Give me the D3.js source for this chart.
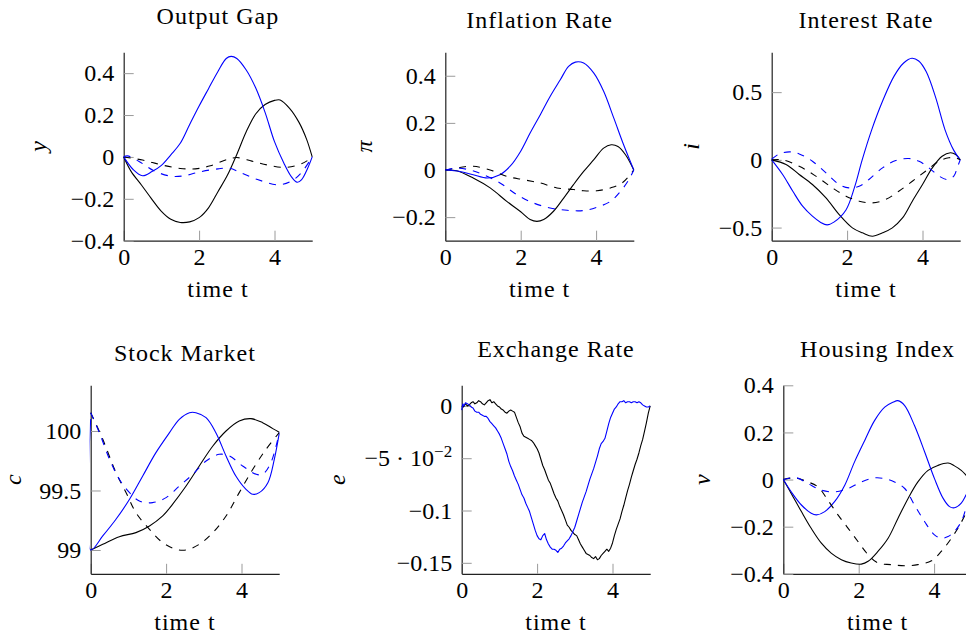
<!DOCTYPE html>
<html>
<head>
<meta charset="utf-8">
<script src="https://cdn.jsdelivr.net/npm/d3@7"></script>
<style>
body { margin: 0; background: #fff; }
</style>
</head>
<body>
<svg id="chart" width="966" height="641"></svg>
<script>
// ---------------- data ----------------
const timeTicks = [0, 2, 4];

// Output gap
const gapBlue = [[0,0],[0.25,-0.06],[0.5,-0.09],[0.75,-0.07],[1,-0.04],[1.25,0.01],[1.5,0.065],[1.75,0.155],[2,0.243],[2.25,0.326],[2.5,0.408],[2.72,0.47],[2.85,0.48],[3,0.47],[3.25,0.415],[3.5,0.33],[3.75,0.213],[4,0.073],[4.25,-0.03],[4.45,-0.095],[4.6,-0.121],[4.72,-0.108],[4.88,-0.054],[5,0]];
const gapBlack = [[0,0],[0.2,-0.07],[0.47,-0.134],[0.73,-0.198],[1,-0.26],[1.25,-0.298],[1.5,-0.313],[1.75,-0.31],[2,-0.29],[2.25,-0.243],[2.5,-0.166],[2.75,-0.088],[3,0.012],[3.25,0.12],[3.5,0.205],[3.75,0.25],[4,0.27],[4.15,0.272],[4.4,0.232],[4.65,0.165],[4.85,0.085],[5,0]];
const gapBlackDash = [[0,0],[0.5,-0.015],[1,-0.038],[1.5,-0.055],[1.9,-0.057],[2.3,-0.042],[2.75,-0.012],[3,-0.003],[3.4,-0.02],[3.8,-0.038],[4.25,-0.05],[4.6,-0.04],[4.85,-0.02],[5,0]];
const gapBlueDash = [[0,0],[0.1,0.005],[0.5,-0.032],[0.8,-0.066],[1.25,-0.092],[1.6,-0.09],[2,-0.072],[2.5,-0.057],[2.8,-0.054],[3.1,-0.075],[3.55,-0.108],[4.1,-0.133],[4.45,-0.115],[4.7,-0.078],[5,0]];
const gapTicks = [-0.4, -0.2, 0, 0.2, 0.4];
const gapTickLabels = ['−0.4', '−0.2', '0', '0.2', '0.4'];

// Inflation rate
const inflBlue = [[0,0],[0.39,-0.006],[0.74,-0.02],[1.12,-0.034],[1.45,-0.02],[1.72,0.016],[2,0.08],[2.25,0.157],[2.52,0.235],[2.78,0.312],[3.05,0.383],[3.27,0.44],[3.45,0.458],[3.67,0.454],[3.94,0.411],[4.2,0.334],[4.47,0.22],[4.73,0.107],[5,0]];
const inflBlack = [[0,0],[0.3,-0.003],[0.74,-0.034],[1.19,-0.076],[1.63,-0.133],[2,-0.177],[2.25,-0.21],[2.43,-0.218],[2.61,-0.21],[2.87,-0.175],[3.14,-0.119],[3.4,-0.062],[3.67,-0.006],[3.94,0.044],[4.2,0.093],[4.4,0.107],[4.58,0.1],[4.78,0.065],[5,0]];
const inflBlackDash = [[0,0],[0.39,0.011],[0.74,0.016],[1.19,0],[1.63,-0.027],[2.07,-0.041],[2.52,-0.055],[2.96,-0.076],[3.4,-0.083],[3.67,-0.088],[4.02,-0.088],[4.38,-0.076],[4.69,-0.055],[5,0]];
const inflBlueDash = [[0,0],[0.3,0.008],[0.66,0],[1.01,-0.02],[1.45,-0.055],[1.9,-0.105],[2.34,-0.14],[2.78,-0.161],[3.23,-0.171],[3.67,-0.172],[4.02,-0.158],[4.38,-0.133],[4.65,-0.09],[4.87,-0.041],[5,0]];
const inflTicks = [-0.2, 0, 0.2, 0.4];
const inflTickLabels = ['−0.2', '0', '0.2', '0.4'];

// Interest rate
const rateBlue = [[0,0],[0.29,-0.108],[0.56,-0.232],[0.82,-0.342],[1.08,-0.416],[1.3,-0.462],[1.47,-0.48],[1.65,-0.46],[1.97,-0.37],[2.2,-0.2],[2.4,0],[2.65,0.22],[2.95,0.44],[3.25,0.62],[3.5,0.715],[3.72,0.75],[3.9,0.73],[4.1,0.65],[4.35,0.46],[4.6,0.22],[4.83,0.07],[5,0]];
const rateBlack = [[0,0],[0.38,-0.034],[0.73,-0.108],[1.08,-0.182],[1.44,-0.281],[1.79,-0.404],[2.14,-0.502],[2.41,-0.539],[2.67,-0.564],[2.94,-0.539],[3.2,-0.502],[3.47,-0.429],[3.73,-0.305],[4,-0.182],[4.26,-0.059],[4.52,0.027],[4.74,0.052],[4.88,0.039],[5,0]];
const rateBlackDash = [[0,0],[0.29,0],[0.73,-0.047],[1.17,-0.12],[1.61,-0.207],[1.97,-0.268],[2.32,-0.305],[2.67,-0.318],[3.02,-0.293],[3.37,-0.232],[3.73,-0.158],[4.08,-0.084],[4.44,-0.01],[4.7,0.015],[4.88,0.015],[5,0]];
const rateBlueDash = [[0,0.005],[0.2,0.044],[0.47,0.059],[0.73,0.044],[1.08,-0.01],[1.44,-0.096],[1.79,-0.182],[2.05,-0.207],[2.32,-0.195],[2.58,-0.145],[2.94,-0.059],[3.29,-0.005],[3.64,0.01],[3.91,-0.01],[4.17,-0.059],[4.44,-0.12],[4.66,-0.145],[4.83,-0.12],[4.92,-0.059],[5,0]];
const rateTicks = [-0.5, 0, 0.5];
const rateTickLabels = ['−0.5', '0', '0.5'];

// Stock market
const stockBlue = [[0,100.1],[0,99],[0.32,99.118],[0.67,99.258],[1.03,99.426],[1.38,99.622],[1.73,99.818],[2.09,99.986],[2.35,100.098],[2.62,100.154],[2.79,100.154],[3.06,100.112],[3.32,99.986],[3.59,99.79],[3.85,99.622],[4.12,99.51],[4.3,99.468],[4.47,99.482],[4.7,99.566],[4.87,99.762],[5,99.98]];
const stockBlueDash = [[0,100.154],[0.23,99.986],[0.5,99.762],[0.76,99.594],[1.03,99.482],[1.29,99.412],[1.64,99.398],[2,99.44],[2.35,99.538],[2.71,99.636],[3.06,99.748],[3.41,99.804],[3.68,99.79],[4.03,99.706],[4.39,99.636],[4.56,99.636],[4.78,99.734],[5,99.986]];
const stockBlack = [[0,99],[0.32,99.048],[0.76,99.112],[1.2,99.146],[1.56,99.202],[1.91,99.286],[2.17,99.384],[2.53,99.538],[2.88,99.706],[3.24,99.874],[3.59,100],[3.94,100.084],[4.25,100.104],[4.56,100.07],[4.83,100.02],[5,99.99]];
const stockBlackDash = [[0,100.154],[0.32,99.93],[0.67,99.65],[0.94,99.482],[1.2,99.314],[1.56,99.174],[1.91,99.062],[2.26,99.006],[2.53,99],[2.88,99.048],[3.24,99.146],[3.59,99.286],[3.94,99.482],[4.3,99.678],[4.65,99.846],[5,99.986]];
const stockTicks = [99, 99.5, 100];
const stockTickLabels = ['99', '99.5', '100'];

// Exchange rate (noisy paths)
const fxBlack = [[0,0],[0.05,-0.001],[0.1,0.002],[0.15,0.0],[0.2,0.001],[0.25,0.003],[0.3,0.004],[0.35,0.002],[0.4,0.003],[0.45,0.005],[0.5,0.004],[0.55,0.002],[0.6,0.001],[0.65,0.003],[0.7,0.005],[0.75,0.006],[0.8,0.003],[0.85,0.004],[0.9,0.002],[0.95,0.0],[1,-0.001],[1.05,-0.003],[1.1,-0.004],[1.15,-0.006],[1.2,-0.007],[1.25,-0.005],[1.3,-0.004],[1.35,-0.005],[1.4,-0.006],[1.45,-0.011],[1.5,-0.016],[1.55,-0.02],[1.6,-0.026],[1.65,-0.029],[1.7,-0.03],[1.75,-0.031],[1.8,-0.032],[1.85,-0.033],[1.9,-0.035],[1.95,-0.038],[2,-0.041],[2.05,-0.045],[2.1,-0.051],[2.15,-0.057],[2.2,-0.061],[2.25,-0.066],[2.3,-0.071],[2.35,-0.074],[2.4,-0.079],[2.45,-0.084],[2.5,-0.088],[2.55,-0.091],[2.6,-0.096],[2.65,-0.1],[2.7,-0.104],[2.75,-0.109],[2.8,-0.114],[2.85,-0.116],[2.9,-0.119],[2.95,-0.121],[3,-0.123],[3.05,-0.124],[3.1,-0.128],[3.15,-0.132],[3.2,-0.135],[3.25,-0.138],[3.3,-0.141],[3.35,-0.142],[3.4,-0.143],[3.45,-0.145],[3.5,-0.146],[3.55,-0.144],[3.6,-0.147],[3.65,-0.146],[3.7,-0.143],[3.75,-0.141],[3.8,-0.139],[3.85,-0.137],[3.9,-0.139],[3.95,-0.136],[4,-0.131],[4.05,-0.124],[4.1,-0.118],[4.15,-0.113],[4.2,-0.108],[4.25,-0.101],[4.3,-0.095],[4.35,-0.088],[4.4,-0.081],[4.45,-0.075],[4.5,-0.068],[4.55,-0.062],[4.6,-0.056],[4.65,-0.051],[4.7,-0.045],[4.75,-0.038],[4.8,-0.032],[4.85,-0.024],[4.9,-0.016],[4.95,-0.007],[5,0]];
const fxBlue = [[0,-0.004],[0.03,0.002],[0.06,0.0],[0.1,0.003],[0.15,0.002],[0.2,0.001],[0.25,-0.001],[0.3,-0.002],[0.35,-0.005],[0.4,-0.006],[0.45,-0.006],[0.5,-0.008],[0.55,-0.009],[0.6,-0.01],[0.65,-0.01],[0.7,-0.012],[0.75,-0.015],[0.8,-0.017],[0.85,-0.019],[0.9,-0.021],[0.95,-0.024],[1,-0.027],[1.05,-0.031],[1.1,-0.036],[1.15,-0.041],[1.2,-0.046],[1.25,-0.053],[1.3,-0.058],[1.35,-0.062],[1.4,-0.067],[1.45,-0.071],[1.5,-0.075],[1.55,-0.08],[1.6,-0.085],[1.65,-0.088],[1.7,-0.093],[1.75,-0.097],[1.8,-0.101],[1.85,-0.107],[1.9,-0.113],[1.95,-0.119],[2,-0.124],[2.05,-0.127],[2.1,-0.128],[2.15,-0.124],[2.2,-0.122],[2.25,-0.128],[2.3,-0.132],[2.35,-0.135],[2.4,-0.137],[2.45,-0.137],[2.5,-0.138],[2.55,-0.14],[2.6,-0.137],[2.65,-0.136],[2.7,-0.134],[2.75,-0.131],[2.8,-0.129],[2.85,-0.127],[2.9,-0.124],[2.95,-0.12],[3,-0.116],[3.05,-0.11],[3.1,-0.104],[3.15,-0.098],[3.2,-0.092],[3.25,-0.087],[3.3,-0.082],[3.35,-0.076],[3.4,-0.07],[3.45,-0.065],[3.5,-0.06],[3.55,-0.054],[3.6,-0.048],[3.65,-0.041],[3.7,-0.036],[3.75,-0.034],[3.8,-0.031],[3.85,-0.024],[3.9,-0.017],[3.95,-0.011],[4,-0.007],[4.05,-0.003],[4.1,-0.001],[4.15,0.002],[4.2,0.004],[4.25,0.004],[4.3,0.005],[4.35,0.003],[4.4,0.004],[4.45,0.004],[4.5,0.003],[4.55,0.004],[4.6,0.004],[4.65,0.003],[4.7,0.004],[4.75,0.003],[4.8,0.001],[4.85,0.0],[4.9,-0.001],[4.95,-0.001],[5,0]];
const fxTicks = [-0.15, -0.1, -0.05, 0];
const fxTickLabels = ['−0.15', '−0.1', '−5 · 10^−2', '0'];

// Housing index
const housBlue = [[0,0],[0.21,-0.052],[0.48,-0.108],[0.74,-0.143],[0.88,-0.15],[1.1,-0.136],[1.36,-0.094],[1.63,-0.024],[1.89,0.075],[2.16,0.166],[2.42,0.25],[2.69,0.307],[2.91,0.328],[3.04,0.335],[3.22,0.314],[3.48,0.229],[3.75,0.117],[4.01,0.004],[4.24,-0.08],[4.41,-0.115],[4.54,-0.12],[4.72,-0.1],[4.85,-0.065],[5,-0.02]];
const housBlack = [[0,0],[0.21,-0.059],[0.48,-0.136],[0.74,-0.207],[1.01,-0.27],[1.27,-0.312],[1.54,-0.34],[1.8,-0.354],[2.07,-0.359],[2.25,-0.347],[2.51,-0.305],[2.78,-0.249],[3.04,-0.165],[3.31,-0.08],[3.57,-0.01],[3.84,0.039],[4.1,0.06],[4.37,0.07],[4.54,0.058],[4.72,0.039],[4.85,0.018],[5,-0.01]];
const housBlackDash = [[0,0],[0.3,0.007],[0.65,-0.01],[0.92,-0.031],[1.18,-0.087],[1.45,-0.15],[1.72,-0.207],[1.98,-0.263],[2.25,-0.319],[2.51,-0.354],[2.86,-0.361],[3.22,-0.366],[3.57,-0.361],[3.93,-0.345],[4.19,-0.305],[4.46,-0.249],[4.68,-0.193],[4.85,-0.14],[5,-0.08]];
const housBlueDash = [[0,0],[0.34,0.008],[0.65,-0.017],[1.01,-0.045],[1.36,-0.052],[1.72,-0.038],[2.07,-0.01],[2.42,0.007],[2.69,0.004],[2.95,-0.01],[3.22,-0.038],[3.48,-0.108],[3.75,-0.179],[4.01,-0.235],[4.19,-0.249],[4.37,-0.242],[4.54,-0.22],[4.72,-0.179],[4.85,-0.12],[5,-0.05]];
const housTicks = [-0.4, -0.2, 0, 0.2, 0.4];
const housTickLabels = ['−0.4', '−0.2', '0', '0.2', '0.4'];

// ---------------- panels ----------------
const panels = [
    { title: 'Output Gap', label: 'y', yDomain: [-0.4, 0.5], ticks: gapTicks, tickLabels: gapTickLabels,
      series: [[gapBlack, 'black', false], [gapBlue, 'blue', false], [gapBlackDash, 'black', true], [gapBlueDash, 'blue', true]] },
    { title: 'Inflation Rate', label: 'π', yDomain: [-0.3, 0.5], ticks: inflTicks, tickLabels: inflTickLabels,
      series: [[inflBlack, 'black', false], [inflBlue, 'blue', false], [inflBlackDash, 'black', true], [inflBlueDash, 'blue', true]] },
    { title: 'Interest Rate', label: 'i', yDomain: [-0.597, 0.795], ticks: rateTicks, tickLabels: rateTickLabels,
      series: [[rateBlack, 'black', false], [rateBlue, 'blue', false], [rateBlackDash, 'black', true], [rateBlueDash, 'blue', true]] },
    { title: 'Stock Market', label: 'c', yDomain: [98.8, 100.384], ticks: stockTicks, tickLabels: stockTickLabels,
      series: [[stockBlack, 'black', false], [stockBlue, 'blue', false], [stockBlackDash, 'black', true], [stockBlueDash, 'blue', true]] },
    { title: 'Exchange Rate', label: 'e', yDomain: [-0.1605, 0.0197], ticks: fxTicks, tickLabels: fxTickLabels, noisy: true,
      series: [[fxBlack, 'black', false], [fxBlue, 'blue', false]] },
    { title: 'Housing Index', label: 'v', yDomain: [-0.4, 0.4], ticks: housTicks, tickLabels: housTickLabels,
      series: [[housBlack, 'black', false], [housBlue, 'blue', false], [housBlackDash, 'black', true], [housBlueDash, 'blue', true]] }
];

// where each axis box sits on the page
const W = 188.5, H = 188.5;
const boxes = [
    { left: 123.7, top: 52.2 }, { left: 445.3, top: 52.2 }, { left: 771.7, top: 52.2 },
    { left: 90.7, top: 385.3 }, { left: 461.7, top: 385.3 }, { left: 783.3, top: 385.3 }
];
const FONT = '"Liberation Serif", "Times New Roman", serif';

// all texts in the same serif face
function serif(sel, size){
    return sel.style('font-family', FONT).style('font-size', (size || 24) + 'px').style('fill', '#000');
}

const svg = d3.select('#chart');
svg.append('rect').attr('width', 966).attr('height', 641).attr('fill', '#fff');

panels.forEach(function(p, k){
    const box = boxes[k];
    const g = svg.append('g').attr('transform', 'translate(' + box.left + ',' + box.top + ')');
    const x = d3.scaleLinear().domain([0, 5]).range([0, W]);
    const y = d3.scaleLinear().domain(p.yDomain).range([H, 0]);

    g.append('clipPath').attr('id', 'clip' + k)
        .append('rect').attr('x', -1).attr('y', -1).attr('width', W + 2).attr('height', H + 2);

    // axes: ticks pointing inward, only left and bottom lines
    const xAxis = g.append('g').attr('transform', 'translate(0,' + H + ')')
        .call(d3.axisBottom(x).tickValues(timeTicks).tickFormat(d3.format('d'))
            .tickSizeInner(-10).tickSizeOuter(0).tickPadding(7));
    const yAxis = g.append('g')
        .call(d3.axisLeft(y).tickValues(p.ticks).tickFormat((d, i) => p.tickLabels[i])
            .tickSizeInner(-10).tickSizeOuter(0).tickPadding(9.5));
    [xAxis, yAxis].forEach(a => {
        a.attr('font-family', null).attr('font-size', null);
        a.selectAll('.tick line').attr('stroke', '#9a9a9a').attr('stroke-width', 1);
        a.select('.domain').attr('stroke', '#222').attr('stroke-width', 1.2);
        serif(a.selectAll('.tick text'));
    });

    // superscript labels like 10^-2
    yAxis.selectAll('.tick text').each(function(d, i){
        const s = p.tickLabels[i];
        if (s.indexOf('^') < 0) return;
        const parts = s.split('^');
        const t = d3.select(this).text(null);
        t.append('tspan').text(parts[0]);
        t.append('tspan').attr('dy', -9).style('font-size', '17px').text(parts[1]);
    });

    // curves
    const line = d3.line().x(d => x(d[0])).y(d => y(d[1]))
        .curve(p.noisy ? d3.curveLinear : d3.curveCatmullRom.alpha(0.5));
    const plot = g.append('g').attr('clip-path', 'url(#clip' + k + ')');
    p.series.forEach(s => {
        plot.append('path').datum(s[0]).attr('d', line)
            .attr('fill', 'none').attr('stroke', s[1]).attr('stroke-width', 1.1)
            .attr('stroke-linejoin', 'round')
            .attr('stroke-dasharray', s[2] ? '7,7' : null);
    });

    // title, x label
    const hasDesc = /[gjpqy]/.test(p.title);
    serif(g.append('text').attr('x', W / 2).attr('y', hasDesc ? -28.5 : -24)
        .attr('text-anchor', 'middle').style('letter-spacing', '1px').text(p.title));
    serif(g.append('text').attr('x', W / 2).attr('y', H + 56)
        .attr('text-anchor', 'middle').style('letter-spacing', '1px').text('time t'));

    // y label sits left of the widest tick label, but stays on the page
    const bb = yAxis.node().getBBox();
    const depth = /[gjpqy]/.test(p.label) ? 4.5 : 0;
    const lx = Math.max(bb.x - 20 - depth, 21 - box.left);
    serif(g.append('text')
        .attr('transform', 'translate(' + lx + ',' + (H / 2) + ') rotate(-90)')
        .attr('text-anchor', 'middle').style('font-style', 'italic').text(p.label));
});
</script>
</body>
</html>
